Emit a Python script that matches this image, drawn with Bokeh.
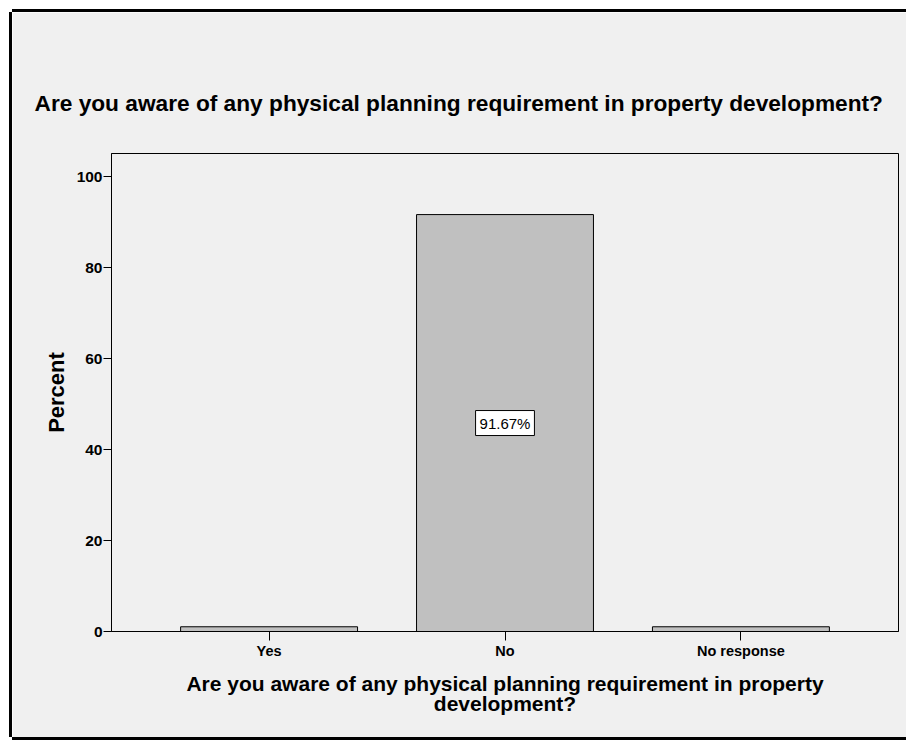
from bokeh.plotting import figure
from bokeh.models import FixedTicker, Range1d, Title, ColumnDataSource
from bokeh.core.properties import value
from bokeh.embed import file_html
from bokeh.resources import INLINE

# ---- data ----
categories = ["Yes", "No", "No response"]
percents = [1.04, 91.67, 1.04]
bar_labels = ["", "91.67%", ""]
y_ticks = [0, 20, 40, 60, 80, 100]

title_text = "Are you aware of any physical planning requirement in property development?"
x_label = "Are you aware of any physical planning requirement in property\ndevelopment?"
y_label = "Percent"

FONT = "Liberation Sans"
BG = "#F0F0F0"

p = figure(
    x_range=categories,
    y_range=Range1d(0, 105.1),
    width=894, height=725,
    output_backend="svg", toolbar_location=None,
    min_border_left=99, min_border_right=8,
    min_border_top=141, min_border_bottom=106,
    background_fill_color=BG, border_fill_color=BG,
)
p.margin = (12, 0, 0, 12)
p.x_range.range_padding = 0.112
p.styles = {"box-shadow": "-3px 0 0 0 black, 0 -3px 0 0 black, 0 3px 0 0 black"}

p.vbar(x=categories, top=percents, width=0.75,
       fill_color="#C0C0C0", line_color="black", line_width=1)

lab_x = [c for c, t in zip(categories, bar_labels) if t]
lab_y = [v / 2 for v, t in zip(percents, bar_labels) if t]
lab_t = [t for t in bar_labels if t]
lab_src = ColumnDataSource(dict(x=lab_x, y=lab_y, text=lab_t))
p.text(x="x", y="y", text="text", source=lab_src,
       text_font=value(FONT), text_font_size="15px", text_color="black",
       text_align="center", text_baseline="middle",
       background_fill_color="white", border_line_color="black",
       border_line_width=1, padding=4)

p.title = Title(text=title_text, text_font=FONT, text_font_size="22.7px",
                text_font_style="bold", text_color="black",
                align="left", offset=-77, standoff=76)

p.xgrid.visible = False
p.ygrid.visible = False
p.outline_line_color = "black"
p.outline_line_width = 1
p.outline_line_alpha = 1

p.yaxis.ticker = FixedTicker(ticks=y_ticks)
p.yaxis.minor_tick_line_color = None
p.yaxis.major_tick_out = 8
p.yaxis.major_tick_in = 0
p.yaxis.major_tick_line_color = "black"
p.yaxis.axis_line_color = "black"
p.yaxis.major_label_text_font = FONT
p.yaxis.major_label_text_font_size = "15.5px"
p.yaxis.major_label_text_font_style = "bold"
p.yaxis.major_label_text_color = "black"
p.yaxis.major_label_standoff = 1
p.yaxis.axis_label = y_label
p.yaxis.axis_label_text_font = FONT
p.yaxis.axis_label_text_font_size = "22px"
p.yaxis.axis_label_text_font_style = "bold"
p.yaxis.axis_label_text_color = "black"
p.yaxis.axis_label_standoff = 5

p.xaxis.major_tick_out = 9
p.xaxis.major_tick_in = 0
p.xaxis.major_tick_line_color = "black"
p.xaxis.axis_line_color = "black"
p.xaxis.major_label_text_font = FONT
p.xaxis.major_label_text_font_size = "14.5px"
p.xaxis.major_label_text_font_style = "bold"
p.xaxis.major_label_text_color = "black"
p.xaxis.major_label_standoff = 2
p.xaxis.axis_label = x_label
p.xaxis.axis_label_text_font = FONT
p.xaxis.axis_label_text_font_size = "21px"
p.xaxis.axis_label_text_font_style = "bold"
p.xaxis.axis_label_text_color = "black"
p.xaxis.axis_label_text_line_height = 0.9
p.xaxis.axis_label_standoff = 10

open("out.html", "w").write(file_html(p, INLINE))
